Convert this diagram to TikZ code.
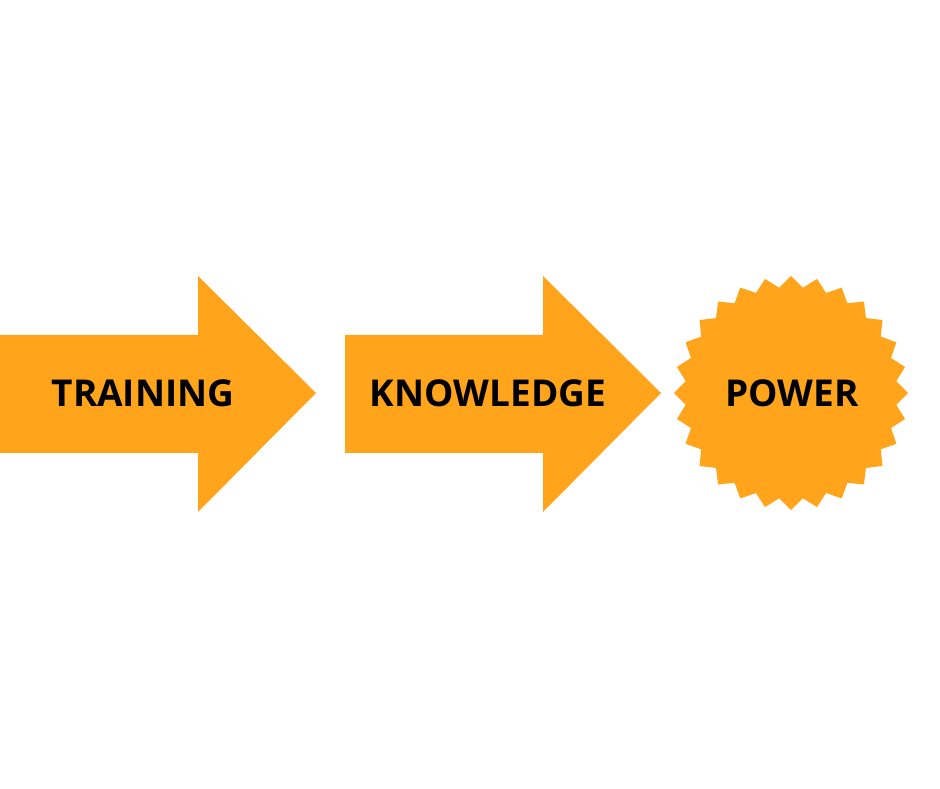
\documentclass[tikz,border=0pt]{standalone}
\usepackage{fontspec}
\setmainfont{Open Sans}
\definecolor{shapeorange}{HTML}{FFA41B}
\begin{document}
\begin{tikzpicture}[x=1pt,y=1pt,
  label/.style={font=\bfseries\fontsize{37}{40}\selectfont,text=black,inner sep=0pt}]
\useasboundingbox (0,0) rectangle (940,788);
% arrow 1
\fill[shapeorange] (0,453) -- (198,453) -- (198,512) -- (316,395) -- (198,276) -- (198,335) -- (0,335) -- cycle;
% arrow 2
\fill[shapeorange] (345,453) -- (543,453) -- (543,512) -- (661,395) -- (543,276) -- (543,335) -- (345,335) -- cycle;
% starburst
\begin{scope}[shift={(791,395)}]
\fill[shapeorange] (0:117)
  \foreach \i in {1,...,55} {
    -- ({\i*6.4285714}:{117-11*mod(\i,2)})
  } -- cycle;
\end{scope}
\node[label] (training) at (143,395) {TRAINING};
\node[label] (knowledge) at (488,395) {KNOWLEDGE};
\node[label] (power) at (792,395) {POWER};
\end{tikzpicture}
\end{document}
